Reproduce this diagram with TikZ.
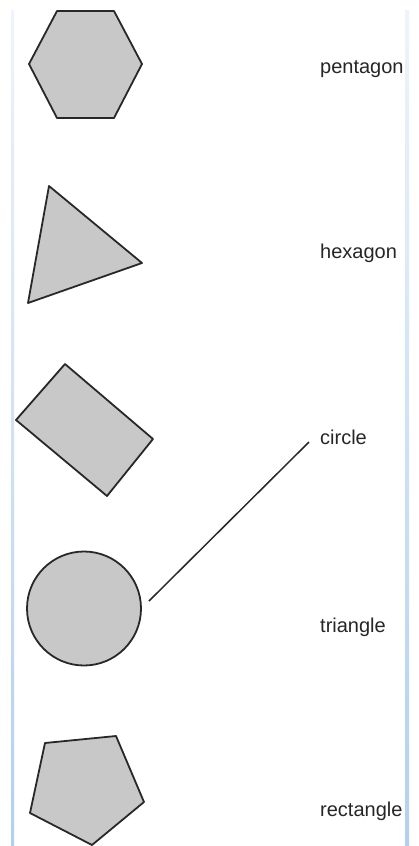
\documentclass[tikz,border=0pt]{standalone}
\usepackage{fontspec}
\setmainfont{Liberation Sans}
\definecolor{shapefill}{RGB}{200,200,200}
\definecolor{shapeline}{RGB}{40,40,40}
\definecolor{edgeblue}{RGB}{178,208,238}
\definecolor{edgefaint}{RGB}{238,244,251}
\tikzset{
  figure/.style={draw=shapeline,fill=shapefill,line width=1.8pt,line join=round},
  wordlabel/.style={anchor=base west,inner sep=0pt,font=\fontsize{20}{24}\selectfont,text=black!85},
}
\begin{document}
\begin{tikzpicture}[x=1pt,y=-1pt]

\useasboundingbox (0,0) rectangle (419,846) ;
\fill[white] (0,0) rectangle (419,846) ;

% side rules
\shade[top color=edgefaint,bottom color=edgeblue] (11,10) rectangle (14,846) ;
\shade[top color=edgefaint,bottom color=edgeblue] (405,10) rectangle (409,846) ;

% shapes
\draw[figure] (57,11) -- (114,11) -- (142,64) -- (114,118) -- (57,118) -- (29,64) -- cycle ;
\draw[figure] (49,186) -- (142,263) -- (28,303) -- cycle ;
\draw[figure] (65,364) -- (153,439) -- (107,496) -- (16,420) -- cycle ;
\node[figure,circle,minimum size=114pt,inner sep=0pt] (circ) at (84,608.5) {} ;
\draw[figure] (45,743) -- (116,736) -- (144,802) -- (92,845) -- (30,813) -- cycle ;

% words
\node[wordlabel] (lab_pentagon) at (320,73) {pentagon} ;
\node[wordlabel] (lab_hexagon) at (320,258) {hexagon} ;
\node[wordlabel] (lab_circle) at (320,444) {circle} ;
\node[wordlabel] (lab_triangle) at (320,632) {triangle} ;
\node[wordlabel] (lab_rectangle) at (320,816) {rectangle} ;

% match line
\coordinate (c_start) at (149,601) ;
\coordinate (c_end) at (309,442) ;
\draw[shapeline,line width=1.5pt] (c_start) -- (c_end) ;

\end{tikzpicture}
\end{document}
